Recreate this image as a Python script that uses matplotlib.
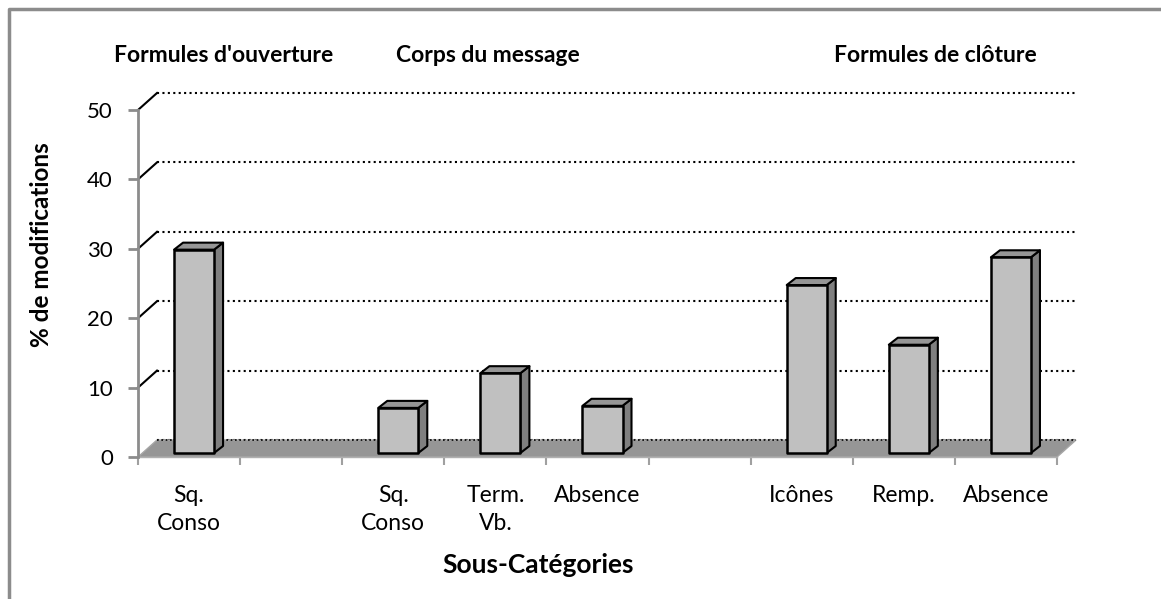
import matplotlib
matplotlib.use("Agg")
import matplotlib.pyplot as plt
from matplotlib.patches import Polygon, Rectangle
from matplotlib.lines import Line2D

# ------------------------------------------------------------------ #
# Data
# ------------------------------------------------------------------ #
categories = ["Sq.\nConso", "", "Sq.\nConso", "Term.\nVb.", "Absence",
              "", "Icônes", "Remp.", "Absence"]
values = [29.3, 0, 6.5, 11.5, 6.8, 0, 24.2, 15.6, 28.2]
y_ticks = [0, 10, 20, 30, 40, 50]
groups = ["Formules d'ouverture", "Corps du message", "Formules de clôture"]

# ------------------------------------------------------------------ #
# Pseudo-3D geometry (Excel-like column chart)
# ------------------------------------------------------------------ #
W, H = 1161, 599
PX_X = 102.1          # px per category
PX_Y = 6.94           # px per value unit
DX, DY = 19 / PX_X, 17 / PX_Y          # wall depth
BX, BY = 5 / PX_X, 4 / PX_Y            # bar front-face offset
BDX, BDY = 9 / PX_X, 7 / PX_Y          # bar depth
BW = 40 / PX_X                          # bar width

plt.rcParams["font.family"] = ["Lato", "DejaVu Sans"]

fig = plt.figure(figsize=(W / 100, H / 100), dpi=100)
ax = fig.add_axes([138 / W, (H - 457) / H, 919 / W, 347 / H])
ax.set_xlim(-0.5, 8.5)
ax.set_ylim(0, 50)

# back wall gridlines
for v in y_ticks:
    ax.plot([-0.5 + DX, 8.5 + DX], [v + DY, v + DY], color="black",
            lw=1.5, linestyle=(0, (1, 1.6)), zorder=1, clip_on=False)
    if v > 0:
        ax.plot([-0.5, -0.5 + DX], [v, v + DY], color="black", lw=1.5,
                zorder=1, clip_on=False)

# floor
floor = Polygon([(-0.5, 0), (8.5, 0), (8.5 + DX, DY), (-0.5 + DX, DY)],
                closed=True, facecolor="#969696", edgecolor="#a6a6a6",
                lw=1, zorder=2, clip_on=False)
ax.add_patch(floor)
ax.plot([-0.5 + DX, 8.5 + DX], [DY, DY], color="black", lw=1.2,
        linestyle=(0, (1, 1.6)), zorder=3, clip_on=False)

# bars
for i, v in enumerate(values):
    if v <= 0:
        continue
    x0 = i - BW / 2 + BX
    x1 = x0 + BW
    y0 = BY
    y1 = BY + v
    side = Polygon([(x1, y0), (x1 + BDX, y0 + BDY), (x1 + BDX, y1 + BDY), (x1, y1)],
                   closed=True, facecolor="#7f7f7f", edgecolor="black",
                   lw=1.5, joinstyle="round", zorder=4, clip_on=False)
    top = Polygon([(x0, y1), (x0 + BDX, y1 + BDY), (x1 + BDX, y1 + BDY), (x1, y1)],
                  closed=True, facecolor="#969696", edgecolor="black",
                  lw=1.5, joinstyle="round", zorder=4, clip_on=False)
    front = Rectangle((x0, y0), BW, v, facecolor="#c0c0c0", edgecolor="black",
                      lw=1.8, joinstyle="round", zorder=5, clip_on=False)
    ax.add_patch(side)
    ax.add_patch(top)
    ax.add_patch(front)

# axes styling
for s in ("top", "right"):
    ax.spines[s].set_visible(False)
ax.spines["left"].set_color("#8c8c8c")
ax.spines["left"].set_linewidth(2)
ax.spines["bottom"].set_color("#b0b0b0")
ax.spines["bottom"].set_linewidth(1)
ax.spines["left"].set_zorder(6)

ax.set_yticks(y_ticks)
ax.set_yticklabels([str(t) for t in y_ticks], fontsize=16)
ax.tick_params(axis="y", length=7, width=2, color="#8c8c8c", pad=11)

ax.set_xticks(range(len(categories)))
ax.set_xticklabels(categories, fontsize=16.5, linespacing=1.45)
ax.set_xticks([b - 0.5 for b in range(len(categories) + 1)], minor=True)
ax.tick_params(axis="x", which="major", length=0, pad=20)
ax.tick_params(axis="x", which="minor", length=6, width=1.5, color="#a0a0a0")

fig.text(42 / W, 1 - 245 / H, "% de modifications", fontsize=17.5,
         fontweight="bold", rotation=90, ha="center", va="center")
fig.text(538 / W, 1 - 565 / H, "Sous-Catégories", fontsize=19,
         fontweight="bold", ha="center", va="center")

# group titles
for g, xc in zip(groups, [224, 488, 935]):
    fig.text(xc / W, 1 - 55 / H, g, fontsize=16.5, fontweight="bold",
             ha="center", va="center")

# outer border (only top and left edges fall inside the picture)
fig.lines.append(Line2D([8.5 / W, 8.5 / W, 1.0], [0.0, 1 - 8.5 / H, 1 - 8.5 / H],
                        transform=fig.transFigure, color="#8c8c8c", lw=2.5))

fig.savefig("out.png", dpi=100)
